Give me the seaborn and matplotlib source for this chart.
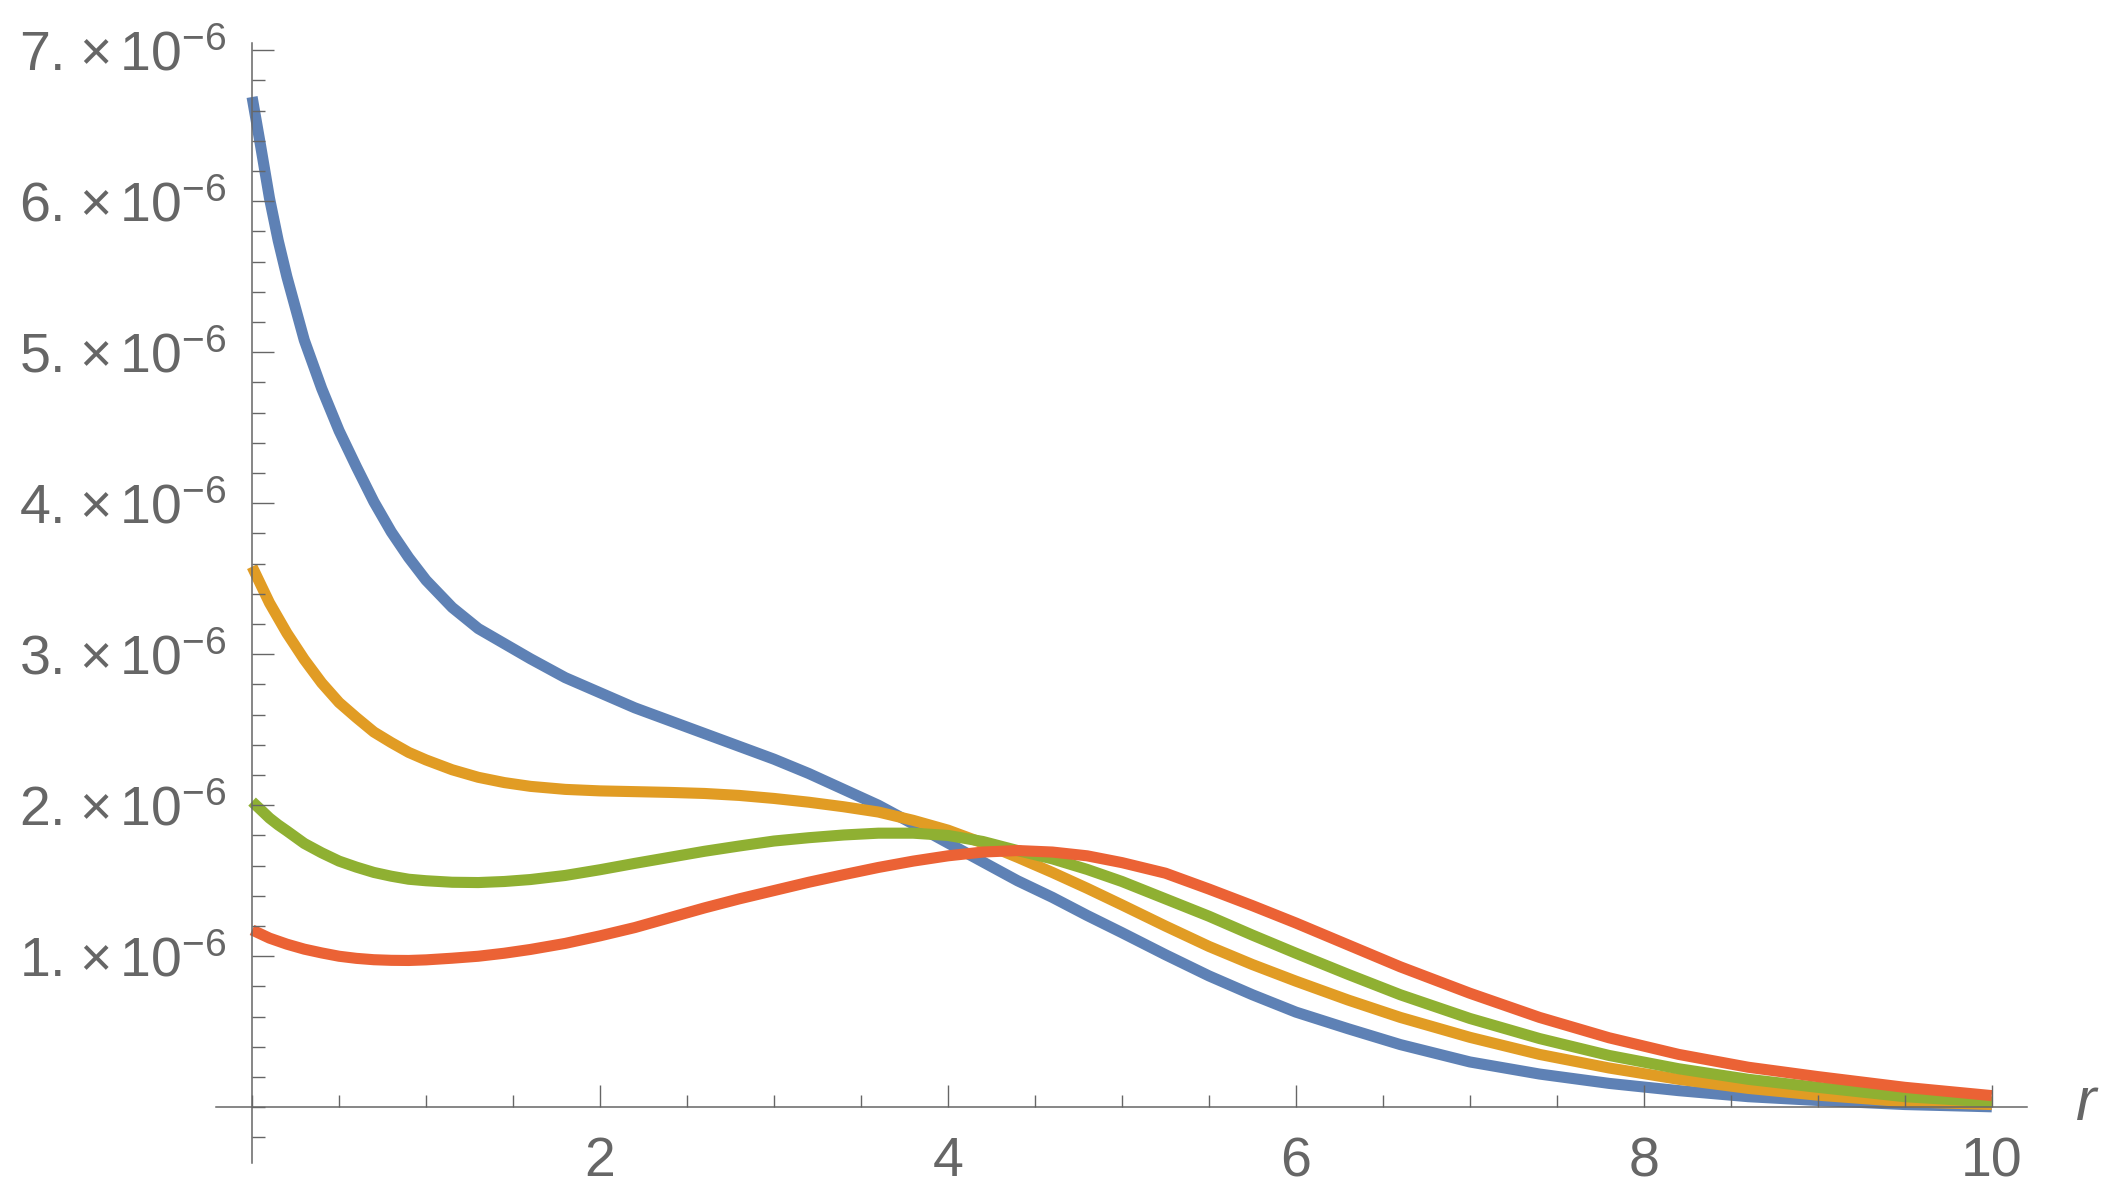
import matplotlib
matplotlib.use("Agg")
import matplotlib.pyplot as plt
import matplotlib.ticker as mticker
import pandas as pd
import seaborn as sns

# values (y in units of 1e-6)
r = [0, 0.05, 0.1, 0.15, 0.2, 0.3, 0.4, 0.5, 0.6, 0.7, 0.8, 0.9, 1.0, 1.15,
     1.3, 1.45, 1.6, 1.8, 2.0, 2.2, 2.4, 2.6, 2.8, 3.0, 3.2, 3.4, 3.6, 3.8,
     4.0, 4.2, 4.4, 4.6, 4.8, 5.0, 5.25, 5.5, 5.75, 6.0, 6.3, 6.6, 7.0, 7.4,
     7.8, 8.2, 8.6, 9.0, 9.5, 10.0]
blue = [6.69, 6.36, 6.02, 5.74, 5.50, 5.08, 4.76, 4.48, 4.24, 4.01, 3.81, 3.64,
        3.49, 3.31, 3.17, 3.07, 2.97, 2.845, 2.745, 2.645, 2.56, 2.475, 2.39,
        2.305, 2.21, 2.105, 2.00, 1.876, 1.75, 1.625, 1.50, 1.39, 1.27, 1.156,
        1.01, 0.87, 0.745, 0.63, 0.52, 0.415, 0.30, 0.22, 0.158, 0.11, 0.07,
        0.045, 0.018, 0.003]
orange = [3.58, 3.46, 3.34, 3.24, 3.14, 2.965, 2.81, 2.68, 2.58, 2.485, 2.415,
          2.35, 2.30, 2.235, 2.185, 2.15, 2.125, 2.105, 2.095, 2.09, 2.085,
          2.078, 2.065, 2.045, 2.02, 1.99, 1.955, 1.90, 1.835, 1.75, 1.655,
          1.555, 1.45, 1.34, 1.20, 1.065, 0.945, 0.835, 0.71, 0.595, 0.463,
          0.35, 0.26, 0.185, 0.125, 0.08, 0.037, 0.018]
green = [2.024, 1.97, 1.915, 1.87, 1.83, 1.747, 1.685, 1.63, 1.59, 1.555, 1.53,
         1.51, 1.50, 1.49, 1.488, 1.495, 1.508, 1.535, 1.573, 1.615, 1.655,
         1.695, 1.73, 1.763, 1.785, 1.803, 1.815, 1.815, 1.80, 1.76, 1.70,
         1.645, 1.575, 1.495, 1.38, 1.265, 1.14, 1.02, 0.88, 0.745, 0.588,
         0.455, 0.343, 0.255, 0.185, 0.132, 0.07, 0.035]
red = [1.174, 1.147, 1.12, 1.10, 1.08, 1.047, 1.022, 1.00, 0.986, 0.977, 0.973,
       0.972, 0.976, 0.987, 1.00, 1.02, 1.045, 1.085, 1.135, 1.19, 1.255, 1.32,
       1.38, 1.435, 1.49, 1.54, 1.588, 1.63, 1.665, 1.69, 1.70, 1.69, 1.665,
       1.62, 1.55, 1.445, 1.335, 1.22, 1.075, 0.93, 0.755, 0.595, 0.46, 0.35,
       0.265, 0.203, 0.132, 0.077]

curves = ["blue", "orange", "green", "red"]
colors = ["#5E81B5", "#E19C24", "#8FB032", "#EB6235"]

x_ticks = [2, 4, 6, 8, 10]
x_tick_labels = ["2", "4", "6", "8", "10"]
y_ticks = [1, 2, 3, 4, 5, 6, 7]
y_tick_labels = [r"$%d.\hspace{0.11}{\times}\,10^{-6}$" % v for v in y_ticks]

sns.set_style("white")
plt.rcParams["font.family"] = ["Liberation Sans", "DejaVu Sans"]
plt.rcParams["mathtext.fontset"] = "custom"
plt.rcParams["mathtext.rm"] = "Liberation Sans"
plt.rcParams["mathtext.it"] = "Liberation Sans:italic"

gray = "#666666"

df = pd.DataFrame({
    "r": r * 4,
    "value": [v * 1e-6 for v in blue + orange + green + red],
    "curve": [c for c in curves for _ in r],
})

fig = plt.figure(figsize=(21.06, 11.95), dpi=100)
ax = fig.add_axes([0.1026, 0.0268, 0.8597, 0.937])

sns.lineplot(data=df, x="r", y="value", hue="curve", hue_order=curves,
             palette=colors, linewidth=8, sort=False, estimator=None,
             legend=False, ax=ax, solid_capstyle="butt", solid_joinstyle="round")

ax.set_xlim(-0.207, 10.2)
ax.set_ylim(-0.369e-6, 7.046e-6)
ax.set_xlabel("")
ax.set_ylabel("")

for side in ["top", "right"]:
    ax.spines[side].set_visible(False)
for side in ["left", "bottom"]:
    ax.spines[side].set_position(("data", 0))
    ax.spines[side].set_color(gray)
    ax.spines[side].set_linewidth(1.1)
ax.set_axisbelow(False)

ax.xaxis.set_major_locator(mticker.FixedLocator(x_ticks))
ax.xaxis.set_major_formatter(mticker.FixedFormatter(x_tick_labels))
ax.xaxis.set_minor_locator(mticker.MultipleLocator(0.5))
ax.yaxis.set_major_locator(mticker.FixedLocator([v * 1e-6 for v in y_ticks]))
ax.yaxis.set_major_formatter(mticker.FixedFormatter(y_tick_labels))
ax.yaxis.set_minor_locator(mticker.MultipleLocator(0.2e-6))

ax.tick_params(which="both", direction="in", color=gray, width=1.0,
               labelcolor=gray, labelsize=40, bottom=True, left=True,
               top=False, right=False)
ax.tick_params(which="major", length=15.5)
ax.tick_params(which="minor", length=9)
ax.tick_params(axis="x", pad=21)
ax.tick_params(axis="y", pad=18)

ax.text(10.54, -0.084e-6, "r", fontsize=44, style="italic", color=gray,
        ha="center", va="baseline", clip_on=False)

fig.savefig("out.png", dpi=100)
